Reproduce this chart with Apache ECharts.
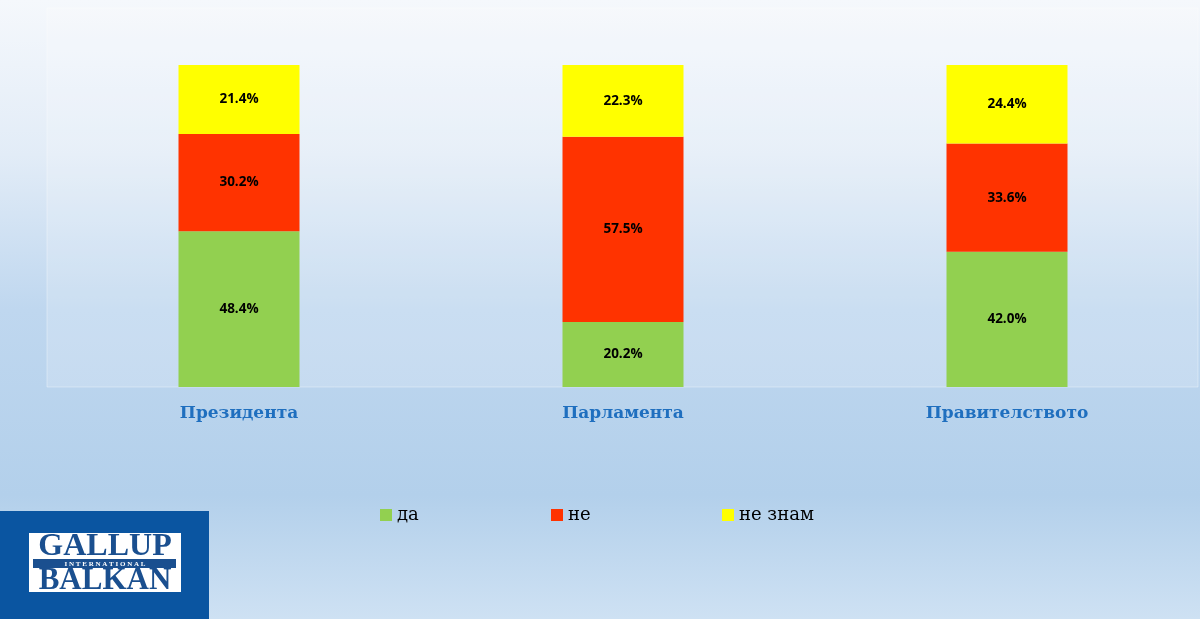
<!DOCTYPE html>
<html><head><meta charset="utf-8">
<script src="https://cdn.jsdelivr.net/npm/echarts@6/dist/echarts.min.js"></script>
<style>html,body{margin:0;padding:0;}#c{width:1200px;height:619px;}</style>
</head><body><div id="c"></div>
<script>
var categories = ['Президента', 'Парламента', 'Правителството'];
var seriesNames = ['да', 'не', 'не знам'];
var valuesDa = [48.4, 20.2, 42.0];
var valuesNe = [30.2, 57.5, 33.6];
var valuesNeZnam = [21.4, 22.3, 24.4];
var colors = ['#92d050', '#ff3300', '#ffff00'];

var chart = echarts.init(document.getElementById('c'), null, {renderer: 'canvas'});
var labelStyle = {show: true, position: 'inside', color: '#000', fontFamily: 'Open Sans', fontWeight: 'bold', fontSize: 13.5,
  formatter: function(p){ return p.value.toFixed(1) + '%'; }};
function mk(name, data, color){
  return {name: name, type: 'bar', stack: 's', data: data, barWidth: 121, itemStyle: {color: color}, label: labelStyle, animation: false};
}
var legendBase = {top: 506, padding: 0, itemWidth: 12, itemHeight: 12, icon: 'rect', textStyle: {fontFamily: 'DejaVu Serif', fontSize: 18, color: '#000'}};
chart.setOption({
  animation: false,
  backgroundColor: {type: 'linear', x: 0, y: 0, x2: 0, y2: 1, colorStops: [
    {offset: 0, color: '#f5f8fc'}, {offset: 0.25, color: '#e2ecf7'}, {offset: 0.5, color: '#bfd7ef'},
    {offset: 0.8, color: '#b3d0eb'}, {offset: 1, color: '#cee1f3'}]},
  graphic: [
    {type: 'rect', z: -1, shape: {x: 47, y: 8, width: 1151, height: 379},
     style: {fill: 'rgba(255,255,255,0.18)', stroke: 'rgba(255,255,255,0.35)', lineWidth: 1}},
    {type: 'rect', shape: {x: 0, y: 511, width: 209, height: 108}, style: {fill: '#0a55a1'}},
    {type: 'rect', shape: {x: 29, y: 533, width: 152, height: 59}, style: {fill: '#ffffff'}},
    {type: 'rect', shape: {x: 33, y: 559, width: 143, height: 9}, style: {fill: '#1a4f8f'}},
    {type: 'text', style: {x: 105, y: 547, text: 'GALLUP', textAlign: 'center', textVerticalAlign: 'middle',
      font: 'bold 32px "Liberation Serif"', fill: '#1a4f8f'}},
    {type: 'text', style: {x: 105, y: 564, text: 'I N T E R N A T I O N A L', textAlign: 'center', textVerticalAlign: 'middle',
      font: 'bold 7px "Liberation Serif"', fill: '#ffffff'}},
    {type: 'text', style: {x: 105, y: 581, text: 'BALKAN', textAlign: 'center', textVerticalAlign: 'middle',
      font: 'bold 31px "Liberation Serif"', fill: '#1a4f8f'}}
  ],
  grid: {left: 47, right: 1, top: 65, bottom: 232},
  xAxis: {type: 'category', data: categories, axisLine: {show: false}, axisTick: {show: false},
    axisLabel: {margin: 18, color: '#1f6fbf', fontFamily: 'DejaVu Serif', fontWeight: 'bold', fontSize: 17}},
  yAxis: {type: 'value', min: 0, max: 100, show: false, splitLine: {show: false}},
  legend: [
    Object.assign({left: 380, data: ['да']}, legendBase),
    Object.assign({left: 551, data: ['не']}, legendBase),
    Object.assign({left: 722, data: ['не знам']}, legendBase)
  ],
  series: [mk(seriesNames[0], valuesDa, colors[0]), mk(seriesNames[1], valuesNe, colors[1]), mk(seriesNames[2], valuesNeZnam, colors[2])]
});
</script></body></html>
